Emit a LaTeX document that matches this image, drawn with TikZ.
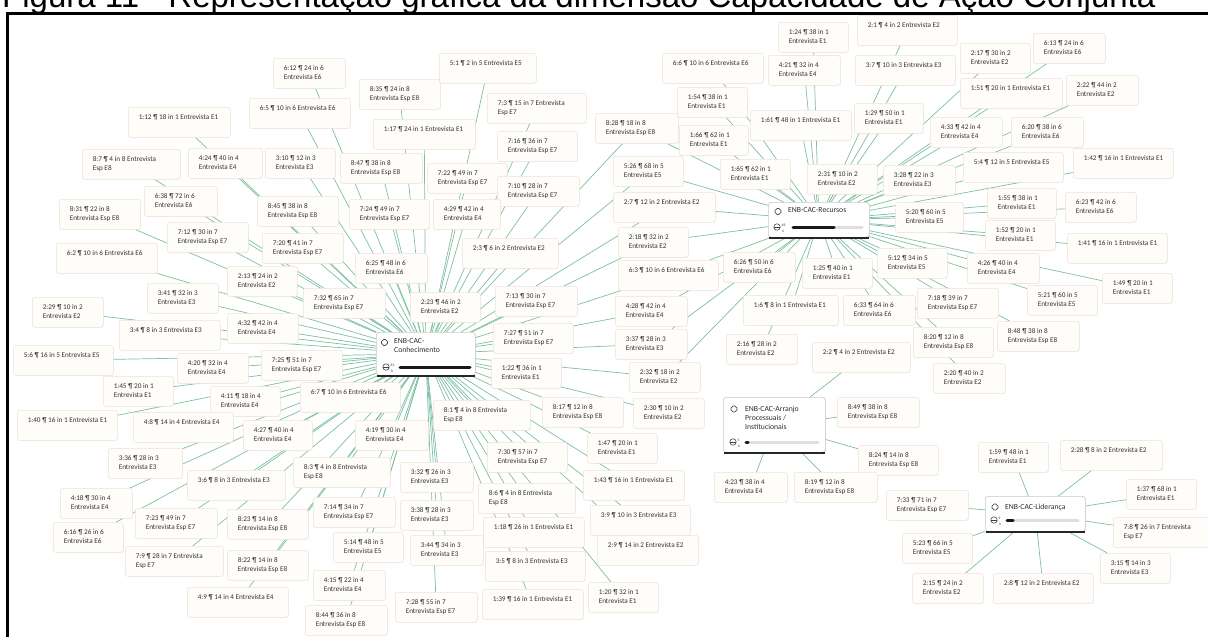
\documentclass[tikz,border=0pt]{standalone}
\usepackage{fontspec}
\setmainfont{Carlito}
\newfontfamily\titlefont{Liberation Sans}
\usetikzlibrary{backgrounds,shapes.geometric,shadows}

\definecolor{qfill}{RGB}{255,253,250}
\definecolor{qline}{RGB}{238,226,212}
\definecolor{qtext}{RGB}{50,50,50}
\definecolor{linkgreen}{RGB}{124,192,163}
\definecolor{hubline}{RGB}{200,200,200}
\definecolor{trackgray}{RGB}{222,222,222}

\tikzset{
  quot/.style={anchor=north west, draw=qline, fill=qfill, rounded corners=2.5pt,
    line width=.5pt, inner xsep=10.5pt, inner ysep=5pt, minimum height=30pt,
    align=left, text=qtext, font=\fontsize{7.2}{9.3}\selectfont,
    drop shadow={opacity=.07, shadow xshift=.6pt, shadow yshift=-.8pt}},
  hub/.style={anchor=north west, draw=hubline, fill=white, rounded corners=3pt,
    line width=.6pt, inner sep=0pt,
    drop shadow={opacity=.18, shadow xshift=.8pt, shadow yshift=-1pt}},
  hubbase/.style={line width=1.8pt, black!85},
  hubtext/.style={anchor=north west, inner sep=0pt, align=left, text=black!82,
    font=\fontsize{7.7}{9.3}\selectfont},
  codeicon/.style={diamond, draw=black!70, line width=.6pt, minimum size=8pt,
    inner sep=0pt, rounded corners=1.2pt},
  gauge/.style={circle, draw=black!75, line width=.55pt, minimum size=6.5pt, inner sep=0pt,
    path picture={\draw[black!75, line width=.55pt] (path picture bounding box.west) -- (path picture bounding box.east);}},
  gaugenum/.style={inner sep=0pt, text=black!75, font=\fontsize{3.6}{4}\selectfont},
  bartrack/.style={line width=3pt, trackgray, line cap=round},
  barfill/.style={line width=3pt, black!90, line cap=round},
  link/.style={linkgreen, line width=.7pt},
  frameline/.style={line width=2.8pt, black},
}

% quotation box: name, left, top, width, first line, second line
\newcommand\qbx[6]{%
  \pgfmathsetmacro\qbxw{#4-21}%
  \node[quot] (#1) at (#2,#3) {\makebox[\qbxw pt][l]{\strut#5}\\\makebox[\qbxw pt][l]{\strut#6}};%
}

\begin{document}
\begin{tikzpicture}[x=1pt, y=-1pt]
\useasboundingbox (0,0) rectangle (1208,637);
\begin{pgfonlayer}{background}
  \fill[white] (0,0) rectangle (1208,637);
\end{pgfonlayer}

\node[anchor=base west, inner sep=0pt, font=\titlefont\fontsize{33}{36}\selectfont] (title) at (2,8)
  {Figura 11 - Representação gráfica da dimensão Capacidade de Ação Conjunta};
\draw[frameline] (1215,13.5) -- (7.5,13.5) -- (7.5,645);

% ---------- quotations around ENB-CAC-Conhecimento ----------
\qbx{q612}{273}{58}{72}{6:12 ¶ 24 in 6}{Entrevista E6}
\qbx{q65}{249}{98}{101}{6:5 ¶ 10 in 6 Entrevista E6}{}
\qbx{q112}{128}{107}{102}{1:12 ¶ 18 in 1 Entrevista E1}{}
\qbx{q87}{82}{149}{98}{8:7 ¶ 4 in 8 Entrevista}{Esp E8}
\qbx{q424}{188}{148}{74}{4:24 ¶ 40 in 4}{Entrevista E4}
\qbx{q310}{265}{148}{70}{3:10 ¶ 12 in 3}{Entrevista E3}
\qbx{q638}{144}{186}{73}{6:38 ¶ 72 in 6}{Entrevista E6}
\qbx{q831}{59}{199}{81}{8:31 ¶ 22 in 8}{Entrevista Esp E8}
\qbx{q845}{257}{196}{81}{8:45 ¶ 38 in 8}{Entrevista Esp E8}
\qbx{q835}{359}{79}{81}{8:35 ¶ 24 in 8}{Entrevista Esp E8}
\qbx{q51}{439}{53}{97}{5:1 ¶ 2 in 5 Entrevista E5}{}
\qbx{q73}{487}{93}{99}{7:3 ¶ 15 in 7 Entrevista}{Esp E7}
\qbx{q117}{373}{119}{102}{1:17 ¶ 24 in 1 Entrevista E1}{}
\qbx{q716}{497}{131}{80}{7:16 ¶ 36 in 7}{Entrevista Esp E7}
\qbx{q847}{340}{153}{82}{8:47 ¶ 38 in 8}{Entrevista Esp E8}
\qbx{q722}{427}{163}{80}{7:22 ¶ 49 in 7}{Entrevista Esp E7}
\qbx{q710}{497}{176}{82}{7:10 ¶ 28 in 7}{Entrevista Esp E7}
\qbx{q724}{349}{199}{80}{7:24 ¶ 49 in 7}{Entrevista Esp E7}
\qbx{q429}{433}{199}{67}{4:29 ¶ 42 in 4}{Entrevista E4}
\qbx{q712}{167}{222}{81}{7:12 ¶ 30 in 7}{Entrevista Esp E7}
\qbx{q720}{262}{233}{81}{7:20 ¶ 41 in 7}{Entrevista Esp E7}
\qbx{q62}{56}{243}{101}{6:2 ¶ 10 in 6 Entrevista E6}{}
\qbx{q213}{227}{266}{70}{2:13 ¶ 24 in 2}{Entrevista E2}
\qbx{q341}{147}{283}{71}{3:41 ¶ 32 in 3}{Entrevista E3}
\qbx{q229}{32}{297}{71}{2:29 ¶ 10 in 2}{Entrevista E2}
\qbx{q34}{119}{320}{101}{3:4 ¶ 8 in 3 Entrevista E3}{}
\qbx{q432}{227}{313}{71}{4:32 ¶ 42 in 4}{Entrevista E4}
\qbx{q56}{13}{345}{100}{5:6 ¶ 16 in 5 Entrevista E5}{}
\qbx{q420}{177}{353}{71}{4:20 ¶ 32 in 4}{Entrevista E4}
\qbx{q725}{261}{350}{81}{7:25 ¶ 51 in 7}{Entrevista Esp E7}
\qbx{q145}{103}{376}{70}{1:45 ¶ 20 in 1}{Entrevista E1}
\qbx{q411}{210}{386}{70}{4:11 ¶ 18 in 4}{Entrevista E4}
\qbx{q67}{300}{382}{100}{6:7 ¶ 10 in 6 Entrevista E6}{}
\qbx{q140}{17}{410}{100}{1:40 ¶ 16 in 1 Entrevista E1}{}
\qbx{q48}{133}{412}{100}{4:8 ¶ 14 in 4 Entrevista E4}{}
\qbx{q23}{462}{238}{96}{2:3 ¶ 6 in 2 Entrevista E2}{}
\qbx{q625}{355}{253}{72}{6:25 ¶ 48 in 6}{Entrevista E6}
\qbx{q732}{303}{288}{82}{7:32 ¶ 65 in 7}{Entrevista Esp E7}
\qbx{q223}{410}{292}{70}{2:23 ¶ 46 in 2}{Entrevista E2}
\qbx{q713}{495}{286}{82}{7:13 ¶ 30 in 7}{Entrevista Esp E7}
\qbx{q727}{493}{323}{80}{7:27 ¶ 51 in 7}{Entrevista Esp E7}
\qbx{q122}{491}{358}{70}{1:22 ¶ 36 in 1}{Entrevista E1}
\qbx{q81}{433}{400}{97}{8:1 ¶ 4 in 8 Entrevista}{Esp E8}
\qbx{q817}{542}{397}{81}{8:17 ¶ 12 in 8}{Entrevista Esp E8}
\qbx{q419}{355}{420}{73}{4:19 ¶ 30 in 4}{Entrevista E4}
\qbx{q427}{243}{420}{69}{4:27 ¶ 40 in 4}{Entrevista E4}
\qbx{q336}{108}{448}{74}{3:36 ¶ 28 in 3}{Entrevista E3}
\qbx{q83}{293}{457}{97}{8:3 ¶ 4 in 8 Entrevista}{Esp E8}
\qbx{q36}{187}{470}{98}{3:6 ¶ 8 in 3 Entrevista E3}{}
\qbx{q418}{60}{488}{72}{4:18 ¶ 30 in 4}{Entrevista E4}
\qbx{q723}{135}{508}{82}{7:23 ¶ 49 in 7}{Entrevista Esp E7}
\qbx{q823}{227}{509}{81}{8:23 ¶ 14 in 8}{Entrevista Esp E8}
\qbx{q616}{53}{522}{70}{6:16 ¶ 26 in 6}{Entrevista E6}
\qbx{q79}{125}{546}{98}{7:9 ¶ 28 in 7 Entrevista}{Esp E7}
\qbx{q822}{227}{550}{81}{8:22 ¶ 14 in 8}{Entrevista Esp E8}
\qbx{q49}{187}{587}{101}{4:9 ¶ 14 in 4 Entrevista E4}{}
\qbx{q332}{400}{462}{73}{3:32 ¶ 26 in 3}{Entrevista E3}
\qbx{q730}{487}{442}{80}{7:30 ¶ 57 in 7}{Entrevista Esp E7}
\qbx{q714}{313}{497}{82}{7:14 ¶ 34 in 7}{Entrevista Esp E7}
\qbx{q338}{400}{500}{73}{3:38 ¶ 28 in 3}{Entrevista E3}
\qbx{q86}{478}{483}{97}{8:6 ¶ 4 in 8 Entrevista}{Esp E8}
\qbx{q118}{483}{517}{101}{1:18 ¶ 26 in 1 Entrevista E1}{}
\qbx{q514}{333}{532}{70}{5:14 ¶ 48 in 5}{Entrevista E5}
\qbx{q344}{410}{535}{73}{3:44 ¶ 34 in 3}{Entrevista E3}
\qbx{q35}{485}{551}{100}{3:5 ¶ 8 in 3 Entrevista E3}{}
\qbx{q415}{313}{570}{72}{4:15 ¶ 22 in 4}{Entrevista E4}
\qbx{q728}{395}{592}{82}{7:28 ¶ 55 in 7}{Entrevista Esp E7}
\qbx{q139}{482}{589}{101}{1:39 ¶ 16 in 1 Entrevista E1}{}
\qbx{q844}{305}{605}{82}{8:44 ¶ 36 in 8}{Entrevista Esp E8}
\qbx{q147}{587}{433}{70}{1:47 ¶ 20 in 1}{Entrevista E1}
\qbx{q143}{583}{470}{101}{1:43 ¶ 16 in 1 Entrevista E1}{}
\qbx{q39}{590}{505}{100}{3:9 ¶ 10 in 3 Entrevista E3}{}
\qbx{q29}{597}{535}{101}{2:9 ¶ 14 in 2 Entrevista E2}{}
\qbx{q120}{588}{582}{70}{1:20 ¶ 32 in 1}{Entrevista E1}
\qbx{q230}{633}{398}{71}{2:30 ¶ 10 in 2}{Entrevista E2}
\qbx{q232}{629}{362}{71}{2:32 ¶ 18 in 2}{Entrevista E2}
\qbx{q337}{615}{329}{72}{3:37 ¶ 28 in 3}{Entrevista E3}
\qbx{q428}{615}{296}{72}{4:28 ¶ 42 in 4}{Entrevista E4}
\qbx{q63}{618}{260}{100}{6:3 ¶ 10 in 6 Entrevista E6}{}
\qbx{q218}{618}{227}{70}{2:18 ¶ 32 in 2}{Entrevista E2}
\qbx{q27}{613}{192}{102}{2:7 ¶ 12 in 2 Entrevista E2}{}
\qbx{q526}{613}{156}{70}{5:26 ¶ 68 in 5}{Entrevista E5}
\qbx{q828}{595}{113}{83}{8:28 ¶ 18 in 8}{Entrevista Esp E8}

% ---------- quotations around ENB-CAC-Recursos ----------
\qbx{q124}{778}{22}{70}{1:24 ¶ 38 in 1}{Entrevista E1}
\qbx{q21}{857}{15}{100}{2:1 ¶ 4 in 2 Entrevista E2}{}
\qbx{q66}{662}{53}{101}{6:6 ¶ 10 in 6 Entrevista E6}{}
\qbx{q421}{768}{55}{72}{4:21 ¶ 32 in 4}{Entrevista E4}
\qbx{q37}{855}{55}{100}{3:7 ¶ 10 in 3 Entrevista E3}{}
\qbx{q154}{677}{87}{70}{1:54 ¶ 38 in 1}{Entrevista E1}
\qbx{q161}{750}{110}{101}{1:61 ¶ 48 in 1 Entrevista E1}{}
\qbx{q129}{854}{103}{69}{1:29 ¶ 50 in 1}{Entrevista E1}
\qbx{q166}{679}{125}{69}{1:66 ¶ 62 in 1}{Entrevista E1}
\qbx{q165}{720}{159}{70}{1:65 ¶ 62 in 1}{Entrevista E1}
\qbx{q231}{807}{164}{70}{2:31 ¶ 10 in 2}{Entrevista E2}
\qbx{q328}{883}{165}{72}{3:28 ¶ 22 in 3}{Entrevista E3}
\qbx{q217}{960}{43}{70}{2:17 ¶ 30 in 2}{Entrevista E2}
\qbx{q613}{1033}{33}{72}{6:13 ¶ 24 in 6}{Entrevista E6}
\qbx{q151}{960}{78}{102}{1:51 ¶ 20 in 1 Entrevista E1}{}
\qbx{q222}{1066}{75}{72}{2:22 ¶ 44 in 2}{Entrevista E2}
\qbx{q433}{930}{117}{72}{4:33 ¶ 42 in 4}{Entrevista E4}
\qbx{q620}{1011}{117}{72}{6:20 ¶ 38 in 6}{Entrevista E6}
\qbx{q54}{963}{152}{100}{5:4 ¶ 12 in 5 Entrevista E5}{}
\qbx{q142}{1073}{148}{100}{1:42 ¶ 16 in 1 Entrevista E1}{}
\qbx{q155}{987}{188}{69}{1:55 ¶ 38 in 1}{Entrevista E1}
\qbx{q623}{1065}{192}{71}{6:23 ¶ 42 in 6}{Entrevista E6}
\qbx{q520}{895}{202}{68}{5:20 ¶ 60 in 5}{Entrevista E5}
\qbx{q152}{985}{220}{70}{1:52 ¶ 20 in 1}{Entrevista E1}
\qbx{q141}{1067}{233}{100}{1:41 ¶ 16 in 1 Entrevista E1}{}
\qbx{q426}{967}{253}{72}{4:26 ¶ 40 in 4}{Entrevista E4}
\qbx{q149}{1102}{273}{70}{1:49 ¶ 20 in 1}{Entrevista E1}
\qbx{q512}{877}{248}{70}{5:12 ¶ 34 in 5}{Entrevista E5}
\qbx{q718}{917}{288}{81}{7:18 ¶ 39 in 7}{Entrevista Esp E7}
\qbx{q521}{1027}{285}{70}{5:21 ¶ 60 in 5}{Entrevista E5}
\qbx{q820}{913}{327}{80}{8:20 ¶ 12 in 8}{Entrevista Esp E8}
\qbx{q848}{997}{321}{82}{8:48 ¶ 38 in 8}{Entrevista Esp E8}
\qbx{q220}{933}{363}{72}{2:20 ¶ 40 in 2}{Entrevista E2}
\qbx{q626}{723}{252}{72}{6:26 ¶ 50 in 6}{Entrevista E6}
\qbx{q125}{802}{258}{70}{1:25 ¶ 40 in 1}{Entrevista E1}
\qbx{q16}{743}{295}{95}{1:6 ¶ 8 in 1 Entrevista E1}{}
\qbx{q633}{843}{295}{72}{6:33 ¶ 64 in 6}{Entrevista E6}
\qbx{q216}{726}{334}{71}{2:16 ¶ 28 in 2}{Entrevista E2}

% ---------- quotations around ENB-CAC-Arranjo ----------
\qbx{q22}{812}{342}{98}{2:2 ¶ 4 in 2 Entrevista E2}{}
\qbx{q849}{837}{397}{82}{8:49 ¶ 38 in 8}{Entrevista Esp E8}
\qbx{q824}{858}{445}{80}{8:24 ¶ 14 in 8}{Entrevista Esp E8}
\qbx{q423}{714}{472}{73}{4:23 ¶ 38 in 4}{Entrevista E4}
\qbx{q819}{794}{472}{83}{8:19 ¶ 12 in 8}{Entrevista Esp E8}

% ---------- quotations around ENB-CAC-Liderança ----------
\qbx{q159}{978}{442}{70}{1:59 ¶ 48 in 1}{Entrevista E1}
\qbx{q228}{1060}{440}{102}{2:28 ¶ 8 in 2 Entrevista E2}{}
\qbx{q137}{1126}{479}{70}{1:37 ¶ 68 in 1}{Entrevista E1}
\qbx{q78}{1113}{517}{98}{7:8 ¶ 26 in 7 Entrevista}{Esp E7}
\qbx{q733}{886}{490}{82}{7:33 ¶ 71 in 7}{Entrevista Esp E7}
\qbx{q523}{902}{533}{70}{5:23 ¶ 66 in 5}{Entrevista E5}
\qbx{q315}{1100}{553}{70}{3:15 ¶ 14 in 3}{Entrevista E3}
\qbx{q215}{912}{573}{71}{2:15 ¶ 24 in 2}{Entrevista E2}
\qbx{q28}{993}{573}{100}{2:8 ¶ 12 in 2 Entrevista E2}{}

% ---------- code nodes ----------
\node[hub, minimum width=99pt, minimum height=43pt] (hcon) at (376,332) {};
\draw[hubbase] ([xshift=1pt]hcon.south west) -- ([xshift=-1pt]hcon.south east);
\node[codeicon] (hconicon) at (384.5,342.5) {};
\node[hubtext] (hconlabel) at (394,338.5) {ENB-CAC-\\Conhecimento};
\node[gauge] (hcongauge) at (386,367) {};
\node[gaugenum, anchor=west] (hconnum) at (390.5,365.5) {83};
\node[gaugenum] (hconden) at (392,371.5) {0};
\draw[bartrack] (400,367) -- (470,367);
\draw[barfill] (400,367) -- (470,367);

\node[hub, minimum width=101pt, minimum height=35pt] (hrec) at (768,202) {};
\draw[hubbase] ([xshift=1pt]hrec.south west) -- ([xshift=-1pt]hrec.south east);
\node[codeicon] (hrecicon) at (778,211.5) {};
\node[hubtext] (hreclabel) at (788,207.5) {ENB-CAC-Recursos};
\node[gauge] (hrecgauge) at (777,227) {};
\node[gaugenum, anchor=west] (hrecnum) at (781.5,225.5) {48};
\node[gaugenum] (hrecden) at (783,231.5) {0};
\draw[bartrack] (793,227) -- (862,227);
\draw[barfill] (793,227) -- (834,227);

\node[hub, minimum width=102pt, minimum height=55pt] (harr) at (723,397) {};
\draw[hubbase] ([xshift=1pt]harr.south west) -- ([xshift=-1pt]harr.south east);
\node[codeicon] (harricon) at (734,409) {};
\node[hubtext] (harrlabel) at (745,405.5) {ENB-CAC-Arranjo\\Processuais /\\Institucionais};
\node[gauge] (harrgauge) at (733,442) {};
\node[gaugenum, anchor=west] (harrnum) at (737.5,440.5) {5};
\node[gaugenum] (harrden) at (739,446.5) {0};
\draw[bartrack] (746,442) -- (818,442);
\draw[barfill] (746,442) -- (748,442);

\node[hub, minimum width=100pt, minimum height=35pt] (hlid) at (985,496) {};
\draw[hubbase] ([xshift=1pt]hlid.south west) -- ([xshift=-1pt]hlid.south east);
\node[codeicon] (hlidicon) at (995,507) {};
\node[hubtext] (hlidlabel) at (1005,503.5) {ENB-CAC-Liderança};
\node[gauge] (hlidgauge) at (994,520) {};
\node[gaugenum, anchor=west] (hlidnum) at (998.5,518.5) {9};
\node[gaugenum] (hlidden) at (1000,524.5) {0};
\draw[bartrack] (1007,520) -- (1078,520);
\draw[barfill] (1007,520) -- (1013,520);

% ---------- links ----------
\begin{pgfonlayer}{background}
\foreach \n in {q612,q65,q112,q87,q424,q310,q638,q831,q845,q835,q51,q73,q117,q716,
  q847,q722,q710,q724,q429,q712,q720,q62,q213,q341,q229,q34,q432,q56,q420,q725,
  q145,q411,q67,q140,q48,q23,q625,q732,q223,q713,q727,q122,q81,q817,q419,q427,
  q336,q83,q36,q418,q723,q823,q616,q79,q822,q49,q332,q730,q714,q338,q86,q118,
  q514,q344,q35,q415,q728,q139,q844,q147,q143,q39,q29,q120,q230,q232,q337,q428,
  q63,q218,q27,q526,q828}
  \draw[link] (hcon) -- (\n);
\foreach \n in {q124,q21,q66,q421,q37,q154,q161,q129,q166,q828,q526,q165,q231,q328,
  q27,q217,q613,q151,q222,q433,q620,q54,q142,q155,q623,q520,q152,q141,q426,q149,
  q512,q718,q521,q820,q848,q220,q633,q125,q16,q216,q626,q218,q63,q428,q337,q232}
  \draw[link] (hrec) -- (\n);
\foreach \n in {q22,q849,q824,q423,q819}
  \draw[link] (harr) -- (\n);
\foreach \n in {q159,q228,q137,q78,q315,q28,q215,q523,q733}
  \draw[link] (hlid) -- (\n);
\end{pgfonlayer}
\end{tikzpicture}
\end{document}
